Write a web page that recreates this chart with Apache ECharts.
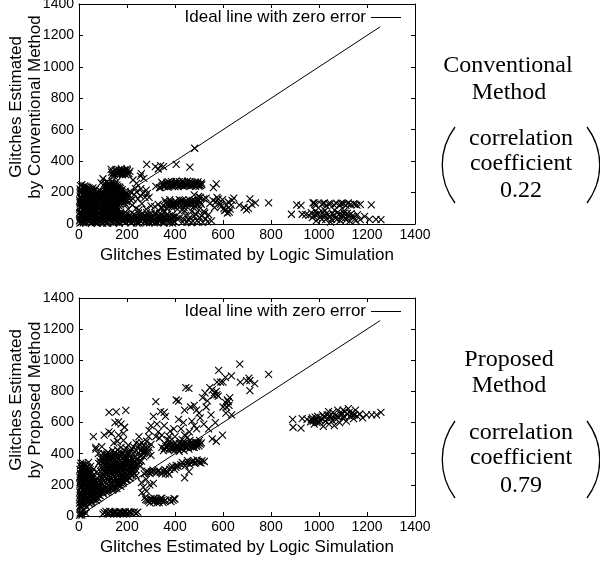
<!DOCTYPE html>
<html><head><meta charset="utf-8">
<script src="https://cdn.jsdelivr.net/npm/echarts@6/dist/echarts.min.js"></script>
<style>html,body{margin:0;padding:0;background:#fff}#c{width:600px;height:565px}</style>
</head><body><div id="c"></div>
<script>
const idealLine = [[0,0],[1255,1255]];
const legendName = 'Ideal line with zero error';
const xAxisTitle = 'Glitches Estimated by Logic Simulation';
const yTitleTop = 'Glitches Estimated\nby Conventional Method';
const yTitleBottom = 'Glitches Estimated\nby Proposed Method';

const convOriginMass = [
[4,5],[27,7],[52,4],[76,6],[99,5],[14,18],[38,17],[63,19],[88,16],[5,30],[28,29],[51,31],[77,28],[101,30],
[15,42],[40,41],[64,43],[89,40],[3,54],[26,53],[53,55],[75,52],[100,54],[16,66],[39,65],[62,67],[87,64],
[6,78],[29,77],[50,79],[78,76],[102,78],[13,90],[37,89],[65,91],[90,88],[4,102],[27,101],[52,103],[76,100],[99,102],
[15,114],[41,113],[63,115],[88,112],[5,126],[28,125],[51,127],[77,124],[101,126],[14,138],[38,137],[64,139],[89,136],
[3,150],[26,149],[53,151],[75,148],[100,150],[16,162],[40,161],[62,163],[87,160],[6,174],[29,173],[50,175],[78,172],[102,174],
[13,186],[37,185],[65,187],[90,184],[4,198],[27,197],[52,199],[76,196],[15,210],[39,209],[63,211],[5,222],[28,221],[48,223],
[14,234],[36,233],[6,244],[24,242],[58,230],[84,216],[112,208],
[9,12],[33,24],[57,11],[82,23],[20,36],[45,48],[70,35],[95,47],[10,60],[34,72],[58,59],[83,71],[21,84],[46,96],[71,83],[96,95],
[9,108],[33,120],[57,107],[82,119],[20,132],[45,144],[70,131],[95,143],[10,156],[34,168],[58,155],[83,167],[21,180],[46,192],[71,179],[96,191],[9,204],[33,216],[57,203],[20,228],
[18,8],[43,14],[68,9],[92,12],[2,20],[24,40],[47,22],[72,44],[98,22],[8,46],[32,48],[56,42],[80,52],[104,42],[22,62],[46,70],[68,74],[94,60],
[2,70],[24,92],[48,88],[72,92],[104,90],[8,116],[34,104],[60,120],[84,100],[106,112],[24,110],[46,132],[70,112],[94,124],[4,138],[30,142],[58,146],[82,150],[106,142],
[20,154],[44,158],[68,166],[92,170],[8,166],[34,182],[58,178],[84,178],[106,162],[22,192],[44,206],[70,194],[94,204],[8,212],[32,204],[54,214],[78,208],[22,216],[42,230],[12,250],[30,238],[68,220]
];
const convMidMass = [
[120,5],[144,8],[168,4],[192,7],[112,18],[136,17],[160,19],[184,16],[124,30],[148,29],[172,31],[196,28],
[113,42],[137,41],[161,43],[185,40],[125,54],[149,53],[173,55],[197,52],[114,66],[138,65],[162,67],[186,64],
[126,78],[150,77],[174,76],[115,90],[139,89],[163,91],[127,102],[151,101],[116,114],[140,113],[166,115],[128,126],[152,125],[196,124],
[117,138],[141,137],[165,139],[189,136],[129,150],[153,149],[177,151],[201,148],[118,162],[142,161],[166,163],[190,160],
[130,174],[154,173],[178,175],[202,172],[119,186],[143,185],[167,187],[191,184],[131,198],[155,197],[179,199],[120,210],[144,209],[168,211],
[110,222],[132,221],[156,223],[180,219],[121,234],[145,233],[169,235],[112,246],[134,245],[158,247],[125,258],[147,257],[118,270],[138,269],[156,268],[100,288],[92,262],[108,258],
[108,12],[130,24],[155,11],[178,23],[119,48],[143,36],[167,48],[191,35],[108,72],[131,84],[155,71],[120,96],[144,107],[110,128],[133,143],[158,131],[182,143],[110,155],[135,168],[159,155],[183,167],[125,192],[149,180],[173,192],[137,204],[160,228],[127,240],[150,252],
[114,6],[140,14],[164,10],[188,22],[128,40],[152,44],[176,38],[200,44],[118,60],[143,58],[168,60],[192,56],[122,84],[146,92],[112,102],[134,106],[158,108],[122,120],[146,130],[170,128],
[112,146],[138,152],[162,146],[186,152],[124,160],[148,166],[172,162],[196,160],[114,176],[138,180],[162,176],[186,178],[122,204],[146,196],[170,204],[194,196],[112,192],[134,212],[156,212],[178,208],[116,228],[140,226],[164,222],[124,248],[148,242],[172,226],[138,258],[162,238],
[104,66],[126,68],[150,62],[174,66],[198,66],[106,118],[130,114],[154,118],[106,136],[126,136],[150,140],[174,140],[198,142],[104,184],[128,186],[152,190],[176,186],[200,186],[104,202],[128,216],[150,204],[174,214],[192,208],[106,240],[130,232],[152,226]
];
const convUpperBand = [
[134,348],[142,325],[150,340],[158,330],[166,345],[172,318],[178,335],[184,325],[190,345],[196,330],[202,340],[208,322],[148,318],[160,315],[176,350],[194,315],[212,335],[136,330],
[138,312],[146,305],[154,348],[162,322],[170,332],[182,312],[188,336],[200,350],[204,318],
[225,280],[240,258],[256,305],[260,320],[270,290],[282,380],[318,365],[330,350],[340,372],[352,365],[405,380],[462,362],[482,482],[320,240],[335,232]
];
const convBand250 = [
[340,232],[350,255],[358,240],[366,262],[374,245],[382,258],[390,240],[398,265],[406,250],[414,238],[422,260],[430,245],[438,265],[446,248],[454,258],[462,240],[470,262],[478,250],[486,240],[494,258],[502,250],[510,262],
[345,265],[355,238],[370,235],[385,270],[400,238],[418,270],[436,240],[452,272],[468,245],[484,268],[500,240],[560,232],[572,255],
[362,250],[378,252],[394,252],[410,262],[426,250],[442,255],[458,250],[474,252],[490,250],[506,245],[348,244],[372,268],[404,272],[432,272],[464,270],[496,268],
[354,248],[368,255],[386,246],[402,258],[418,248],[434,258],[450,244],[466,256],[482,258],[498,250],[512,250]
];
const convBand130 = [
[350,118],[362,135],[372,112],[382,140],[392,120],[402,145],[412,115],[422,135],[432,150],[442,118],[452,140],[462,125],[472,150],[482,115],[492,135],[500,150],[510,125],[358,150],[378,155],[398,110],[418,155],[438,105],[458,155],
[368,125],[388,130],[408,128],[428,122],[448,128],[468,132],[488,125],[506,138],[345,105],[366,100],[386,108],[476,105],[520,160],[498,175],
[376,132],[396,138],[416,130],[436,134],[456,132],[476,126],[494,122],[384,120],[404,122],[424,148],[444,142],[464,140],[484,145]
];
const convLowerBand = [
[216,8],[234,22],[250,6],[266,25],[282,9],[298,30],[314,7],[330,24],[346,10],[362,28],[378,8],[394,20],[408,34],[224,40],[242,46],[258,38],[276,52],[292,40],[310,55],[326,42],[344,56],[360,44],[376,52],[392,46],[212,56],[230,62],[248,70],[264,60],[282,72],[300,66],[318,70],[336,66],[354,72],
[225,14],[242,5],[258,18],[274,10],[290,20],[306,12],[322,15],[338,18],[354,5],[370,16],[386,32],[400,12],[218,30],[250,28],[284,34],[316,32],[350,36],[384,40],[234,52],[268,44],[302,48],[335,50],[368,62],[205,40],
[210,20],[228,32],[244,14],[262,34],[278,22],[294,8],[310,26],[326,10],[342,30],[358,18],[374,36],[390,6],[404,50],[216,44],[238,36],[254,54],[270,36],[288,60],[304,38],[320,58],[338,38],[352,48],[370,44],[388,58],
[205,95],[222,120],[238,100],[216,150],[230,185],[246,160],[262,130],[268,195],[280,215],[292,170],[300,115],[316,110],[330,125],[344,100],[250,90],[280,95],[215,205],[240,205],[258,225],[255,180],[275,170],[225,160],[210,180],[235,225],[285,195]
];
const convScatterRight = [
[420,40],[432,12],[444,55],[456,28],[468,8],[480,50],[492,22],[504,40],[516,10],[528,32],[540,60],[552,20],[440,85],[470,80],[500,90],[520,80],
[436,30],[450,10],[462,42],[474,20],[486,62],[498,12],[510,52],[524,70],[536,14],
[530,165],[545,130],[558,150],[565,105],[575,170],[585,135],[592,110],[598,155],[606,85],[614,120],[622,140],[630,95],[638,150],[618,70],[645,165],[480,185],[505,170],[495,150],
[570,140],[580,160],[604,100],[612,90],[626,75],[634,120],[590,125],
[668,120],[688,105],[698,90],[706,100],[712,160],[720,125],[735,135],[790,135],[410,95],[430,90]
];
const convFarRight = [
[885,62],[907,122],[925,118],[930,62],[945,60],[958,55],[975,135],[982,125],[988,120],[1012,125],[1022,135],[1030,115],[1048,130],[1062,122],[1072,132],[1088,120],[1102,130],[1112,118],[1122,135],[1132,125],[1145,130],[1158,120],[1172,125],[1218,122],
[968,72],[978,50],[988,20],[994,62],[1006,42],[1016,74],[1028,28],[1038,58],[1048,12],[1056,68],[1068,38],[1078,74],[1088,22],[1098,55],[1108,36],[1118,68],[1128,18],[1138,48],[1148,30],[1160,60],[1172,28],[1190,48],[1210,30],[1238,30],[1258,28],[985,82],[1025,85],[1065,88],[1105,84],
[980,135],[1018,130],[1040,128],[1092,132],[1118,128],[1150,125],
[972,40],[984,60],[1000,70],[1012,30],[1022,55],[1032,68],[1044,42],[1052,30],[1062,58],[1074,28],[1084,62],[1094,40],[1104,70],[1114,26],[1124,52],[1134,66],[1144,44],[1154,22]
];

const propOriginMass = [
[3,6],[14,30],[4,58],[18,70],[30,60],[2,82],[24,86],[44,78],[12,94],[34,98],[54,92],[4,106],[26,110],[46,104],[66,108],
[14,118],[36,122],[56,116],[76,120],[5,130],[27,134],[47,128],[67,132],[15,142],[37,146],[57,140],[77,144],[3,154],[25,158],[45,152],[65,156],
[16,166],[38,170],[58,164],[78,168],[6,178],[28,182],[48,176],[68,180],[14,190],[36,194],[56,188],[76,192],[4,202],[26,206],[46,200],[66,204],
[15,214],[37,218],[57,212],[77,216],[5,226],[27,230],[47,224],[67,228],[14,238],[36,242],[56,236],[3,250],[25,254],[45,248],[16,262],[38,266],[58,260],
[6,274],[28,278],[48,272],[14,286],[36,290],[4,298],[26,302],[46,296],[15,310],[34,316],[6,322],[24,330],[40,345],[8,340],[60,300],[75,285],
[10,25],[28,18],[6,12],
[9,88],[30,104],[52,84],[72,100],[20,124],[42,136],[62,124],[83,136],[10,148],[32,160],[52,148],[72,160],[21,172],[42,186],[62,172],[83,184],[10,196],[31,212],[52,196],[72,210],[20,220],[42,234],[62,220],[10,244],[32,256],[52,244],[20,268],[42,284],[10,292],[30,312],[18,338],
[6,70],[26,72],[40,88],[60,104],[82,112],[10,112],[32,116],[52,112],[70,118],[8,136],[22,146],[40,148],[62,140],[84,152],[18,158],[34,174],[54,160],[74,176],[88,170],
[8,186],[24,196],[44,212],[64,192],[84,202],[4,214],[22,208],[48,236],[70,224],[86,230],[10,232],[30,246],[60,248],[18,252],[40,258],[8,264],[30,268],[52,284],[22,286],[42,306],[12,304],[30,330],[14,326],[48,318]
];
const propDiagonalMass = [
[88,130],[102,142],[116,150],[92,160],[108,168],[124,172],[140,165],[158,178],[174,190],[90,184],[106,192],[122,198],[138,204],[154,208],[170,214],[186,222],[202,232],
[94,210],[110,216],[126,222],[142,228],[158,234],[174,240],[190,246],[206,252],[222,262],[238,258],[98,236],[114,242],[130,248],[146,254],[162,260],[178,266],[194,272],[210,278],[226,284],
[84,258],[100,264],[116,270],[132,276],[148,282],[164,288],[180,294],[196,300],[212,306],[228,312],[90,286],[106,292],[122,298],[138,304],[154,310],[170,316],[186,322],[202,328],[218,334],
[96,314],[112,320],[128,326],[144,332],[160,338],[176,344],[192,350],[208,356],[224,362],[82,338],[102,344],[118,350],[134,356],[150,362],[166,368],[182,374],[198,380],[214,386],
[90,372],[110,378],[126,384],[142,390],[158,396],[100,402],[120,408],[70,430],[80,400],[60,510],[70,440],[95,445],[140,420],[175,440],[205,400],[235,380],[250,350],
[235,300],[248,330],[258,420],[268,400],[278,440],[262,470],[282,480],[270,380],[290,420],[300,390],[246,440],[222,430],[205,455],[185,485],[250,510],[290,510],[300,460],
[96,176],[112,184],[128,186],[146,190],[162,198],[178,206],[194,234],[102,226],[118,232],[134,238],[150,244],[166,250],[182,256],[198,262],[214,268],[230,274],[106,278],[122,284],[138,290],[154,296],[170,302],[186,308],[202,314],[218,320],[120,312],[136,318],[152,324],[168,330],[184,336],[200,342],[216,348],[232,336],[126,364],[142,370],[158,376],[174,382],[190,388],[206,394],[130,396],[150,408],[170,412],[190,420],[215,420],[240,420],[255,390],[265,440],[238,470],[270,450],[285,400],
[100,150],[118,166],[132,180],[150,176],[168,202],[184,212],[98,200],[116,204],[132,212],[148,218],[164,224],[180,230],[196,238],[212,244],[94,250],[110,254],[126,260],[142,266],[158,272],[174,278],[190,284],[206,290],[222,296],[98,300],[114,306],[130,312],[146,316],[162,320],[178,326],[194,332],[210,338],[92,328],[108,332],[124,340],[140,346],[156,350],[172,356],[188,362],[204,368],[220,374],[104,362],[120,368],[136,374],[152,384],[168,392],[184,400],[200,408],[88,350],[112,392],
[124,156],[144,172],[162,212],[196,256],[120,236],[140,216],[176,252],[216,280],[104,288],[132,300],[160,280],[192,312],[226,300],[118,330],[146,342],[174,312],[204,344],[236,320],[100,380],[130,352],[162,344],[196,366],[228,350],[116,398],[146,400],[178,392],[212,404],[242,396],[160,424],[196,436],[226,446],[252,460],[270,420],[292,440],[244,366],[256,320],[260,352],[274,406]
];
const propUpperLeft = [
[105,520],[125,540],[135,530],[150,600],[165,605],[175,590],[165,520],[185,530],[190,570],[125,665],[155,668],[195,678],[145,470],[160,480],[320,735],[310,640],[340,670],[355,665],[360,640],[325,590],[300,580],[292,550],[330,540],[355,580],[380,545],[320,510],[345,520],[375,510]
];
const propBand20 = [
[105,22],[118,14],[128,30],[138,18],[148,26],[158,12],[168,28],[178,18],[188,25],[198,14],[208,28],[218,20],[238,18],[245,25],[230,25],[112,30],[145,12],[185,12],
[122,22],[133,25],[143,20],[153,24],[163,18],[173,24],[183,20],[193,26],[203,20],[213,24],[100,12],[5,20],[12,5],[22,40]
];
const propBand100 = [
[278,105],[290,95],[300,112],[310,90],[320,108],[330,95],[340,112],[350,88],[360,102],[378,105],[392,100],[400,108],[295,85],[325,85],[345,115],
[284,100],[296,105],[306,100],[316,96],[326,102],[336,102],[346,100],[356,95],[312,114],[334,86],[383,92],[396,112]
];
const propBand280 = [
[272,270],[284,288],[296,272],[308,295],[320,278],[332,290],[345,270],[358,300],[370,280],[384,310],[398,300],[412,320],[424,330],[260,215],[268,185],[262,150],[275,120],[282,160],[295,200],[310,210],[280,235],
[278,282],[290,278],[302,284],[314,286],[326,284],[338,280],[352,288],[364,290],[378,300],[390,318],[404,312],[360,270],[375,268]
];
const propBand450 = [
[352,420],[362,445],[372,425],[382,460],[392,430],[402,470],[412,440],[422,478],[432,445],[442,470],[452,450],[462,485],[472,455],[482,475],[492,460],[502,485],[510,470],[358,465],[378,480],[398,420],[418,415],[438,420],[458,430],[480,440],[500,450],
[368,440],[388,448],[408,452],[418,465],[428,458],[438,452],[448,462],[458,462],[468,470],[478,462],[488,472],[498,470],[506,462],[345,440],[375,455],[395,462],[420,440],[445,440],[465,445],
[356,432],[384,430],[404,436],[414,428],[426,432],[436,466],[456,448],[474,440],[490,448]
];
const propBand340 = [
[405,325],[430,345],[442,320],[452,355],[462,330],[472,350],[482,340],[492,360],[502,345],[512,355],[522,350],[440,245],[458,285],[436,335],[450,340],[466,345],[478,355],[496,350],[508,340]
];
const propUpperDiagonal = [
[400,510],[415,620],[425,560],[435,600],[445,825],[458,820],[405,745],[415,738],[440,680],[465,700],[480,710],[490,680],[500,660],[470,610],[480,580],[505,630],[520,590],[540,560],[555,495],[572,480],[598,520],
[515,760],[525,790],[535,740],[545,825],[555,810],[562,775],[572,800],[580,770],[590,860],[600,700],[610,730],[618,745],[625,710],[628,760],[636,650],[612,660],[530,700],[550,650],[568,600],[582,935],[610,890],[635,900],[670,975],[672,860],[698,870],[708,885],[712,870],[712,805],[732,850],[790,910],[600,860],[575,860],[490,560],[460,540],[440,520],
[565,790],[575,780],[622,735],[615,700],[452,505],[430,490],[395,560],[370,490],[335,500]
];
const propFarRight = [
[890,620],[892,570],[925,565],[930,625],[950,620],[965,605],[972,630],[980,590],[988,615],[995,640],[1002,600],[1010,625],[1018,575],[1026,610],[1034,650],[1042,590],[1050,630],[1058,665],[1064,580],[1072,620],[1078,680],[1086,600],[1092,650],[1100,625],[1108,670],[1114,610],[1122,690],[1128,640],[1136,660],[1144,625],[1152,680],[1160,640],[1170,655],[1182,630],[1198,650],[1220,650],[1240,650],[1258,665],[1100,680],[1040,670],[1075,640],[1015,650],
[968,620],[976,610],[984,635],[992,600],[1006,612],[1022,635],[1038,625],[1046,645],[1056,612],[1068,645],[1082,635],[1096,660],[1104,640],[1118,655],[1126,665],[1140,645],[1148,650]
];

const convAll = [].concat(convOriginMass,convMidMass,convUpperBand,convBand250,convBand130,convLowerBand,convScatterRight,convFarRight);
const propAll = [].concat(propOriginMass,propDiagonalMass,propUpperLeft,propBand20,propBand100,propBand280,propBand450,propBand340,propUpperDiagonal,propFarRight);

const tickFont = {fontFamily:'Liberation Sans',fontSize:14,color:'#000'};
const titleFont = {fontFamily:'Liberation Sans',fontSize:17,color:'#000'};
const cross = 'path://M0 0L10 10M10 0L0 10';
function mkAxes(titleY){
  const base = {type:'value',min:0,max:1400,interval:200,splitLine:{show:false},
    axisLine:{show:true,onZero:false,lineStyle:{color:'#000',width:1}},
    axisTick:{show:true,inside:true,length:4,lineStyle:{color:'#000',width:1}}};
  const fmt = v=>String(v);
  return {
    x:[Object.assign({},base,{position:'bottom',name:xAxisTitle,nameLocation:'middle',nameGap:23,nameMoveOverlap:false,nameTextStyle:titleFont,
        axisLabel:Object.assign({margin:4,showMinLabel:true,showMaxLabel:true,formatter:fmt},tickFont)}),
       Object.assign({},base,{position:'top',axisLabel:{show:false}})],
    y:[Object.assign({},base,{position:'left',name:titleY,nameLocation:'middle',nameGap:34,nameMoveOverlap:false,nameRotate:90,
        nameTextStyle:Object.assign({},titleFont,{lineHeight:19,padding:[0,0,0,14]}),
        axisLabel:Object.assign({margin:5,showMinLabel:true,showMaxLabel:true,formatter:fmt},tickFont)}),
       Object.assign({},base,{position:'right',axisLabel:{show:false}})]
  };
}
const a0 = mkAxes(yTitleTop), a1 = mkAxes(yTitleBottom);
function lineS(xi,yi){return {name:legendName,type:'line',xAxisIndex:xi,yAxisIndex:yi,data:idealLine,showSymbol:false,symbol:'none',z:1,
  lineStyle:{color:'#000',width:1},itemStyle:{color:'#000'},silent:true,animation:false};}
function scat(xi,yi,d){return {type:'scatter',xAxisIndex:xi,yAxisIndex:yi,data:d,symbol:cross,symbolSize:7,z:2,
  itemStyle:{color:'rgba(0,0,0,0)',borderColor:'#000',borderWidth:1.1,opacity:1},silent:true,animation:false,clip:false,progressive:0};}
function label(text,x,y){return {type:'text',x:x,y:y,style:{text:text,fill:'#000',align:'center',verticalAlign:'middle',font:'24px "Liberation Serif"'}};}
function paren(x0,xc,top,bot){const h=bot-top;return {type:'bezierCurve',shape:{x1:x0,y1:top,x2:x0,y2:bot,cpx1:xc,cpy1:top+h*0.3,cpx2:xc,cpy2:top+h*0.7},style:{stroke:'#000',lineWidth:1.3,fill:'none'}};}
const legendIcon = 'path://M0 7L30 7L30 8L0 8Z';
const chart = echarts.init(document.getElementById('c'),null,{renderer:'canvas'});
chart.setOption({
  animation:false,backgroundColor:'#fff',
  grid:[{left:79,top:4,width:336,height:220,outerBoundsMode:'none'},{left:79,top:298,width:336,height:218,outerBoundsMode:'none'}],
  xAxis:[...a0.x,...a1.x].map((a,i)=>Object.assign(a,{gridIndex:i<2?0:1})),
  yAxis:[...a0.y,...a1.y].map((a,i)=>Object.assign(a,{gridIndex:i<2?0:1})),
  legend:[
    {top:9,right:199,padding:0,align:'right',itemWidth:30,itemHeight:14,itemGap:0,selectedMode:false,icon:legendIcon,data:[legendName],textStyle:titleFont,itemStyle:{color:'#000'}},
    {top:303,right:199,padding:0,align:'right',itemWidth:30,itemHeight:14,itemGap:0,selectedMode:false,icon:legendIcon,data:[legendName],textStyle:titleFont,itemStyle:{color:'#000'}}
  ],
  series:[lineS(0,0),scat(0,0,convAll),lineS(2,2),scat(2,2,propAll)],
  graphic:{elements:[
    label('Conventional',508,66),label('Method',509,93),label('correlation',521,139),label('coefficient',521,164),label('0.22',521,191),
    label('Proposed',509,360),label('Method',509,386),label('correlation',521,433),label('coefficient',521,458),label('0.79',521,486),
    paren(455,438,127,203),paren(587,604,127,203),paren(455,438,421,498),paren(587,604,421,498)
  ]}
});
</script></body></html>
